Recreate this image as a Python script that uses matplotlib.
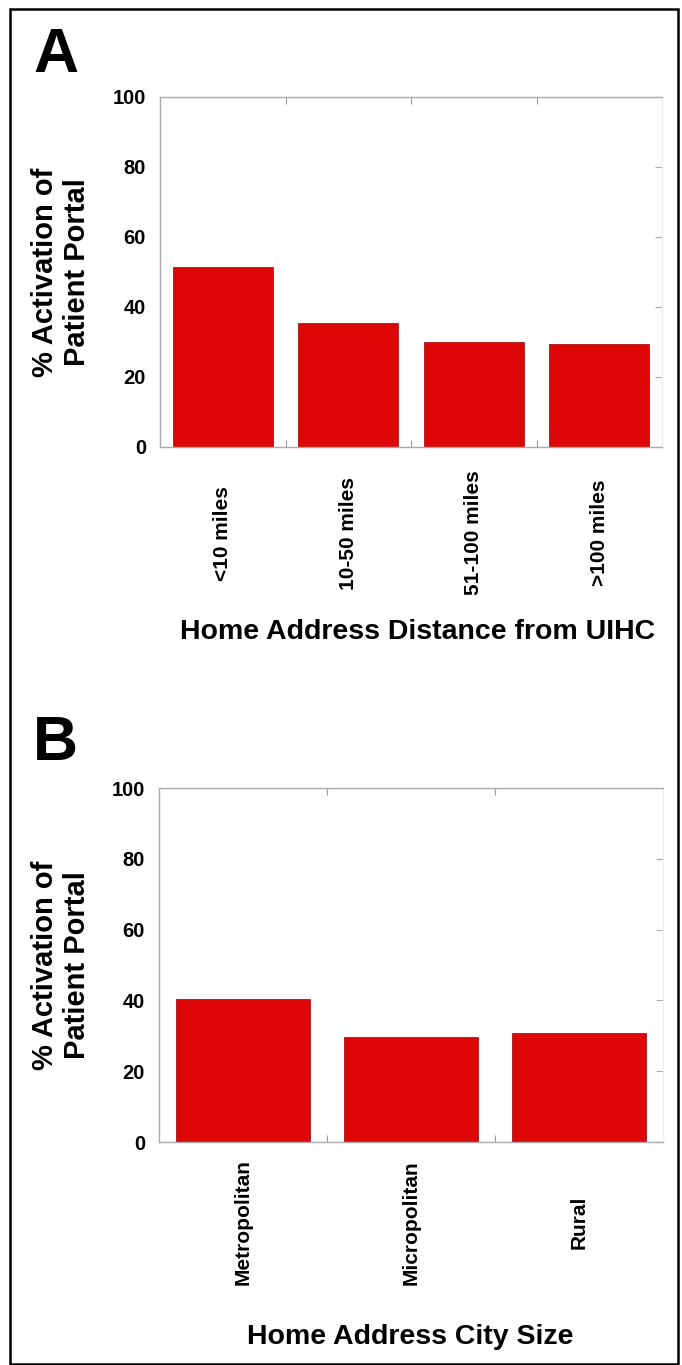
import matplotlib
matplotlib.use("Agg")
import matplotlib.pyplot as plt
from matplotlib.patches import Rectangle
import numpy as np

plt.rcParams['font.family'] = ['Liberation Sans', 'DejaVu Sans']
plt.rcParams['font.weight'] = 'bold'

# panel A data
dist_labels = ['<10 miles', '10-50 miles', '51-100 miles', '>100 miles']
dist_values = [51.4, 35.5, 30.1, 29.4]

# panel B data
city_labels = ['Metropolitan', 'Micropolitan', 'Rural']
city_values = [40.5, 29.6, 30.9]

yticks = [0, 20, 40, 60, 80, 100]
bar_color = '#dd0606'
W, H = 682, 1365

fig = plt.figure(figsize=(W / 100, H / 100), dpi=100)


def px_axes(left, top, right, bottom):
    return fig.add_axes([left / W, 1 - bottom / H, (right - left) / W, (bottom - top) / H])


def draw_panel(ax, labels, values, label_pad):
    n = len(labels)
    x = np.arange(n)
    ax.bar(x, values, width=0.8, color=bar_color, edgecolor='#a00000', linewidth=0.5, zorder=2)
    ax.set_xlim(-0.5, n - 0.5)
    ax.set_ylim(0, 100)
    ax.set_yticks(yticks)
    ax.set_yticklabels([str(t) for t in yticks], fontsize=14.5, fontweight='bold')
    ax.set_xticks(x)
    ax.set_xticklabels(labels, rotation=90, fontsize=15, fontweight='bold', va='center', ha='center')
    ax.set_xticks(np.arange(n - 1) + 0.5, minor=True)
    ax.tick_params(axis='x', which='major', length=0, pad=label_pad)
    ax.tick_params(axis='x', which='minor', direction='in', length=5, top=True, bottom=True,
                   color='#999999', width=0.8)
    ax.tick_params(axis='y', direction='in', length=5, left=False, right=True,
                   color='#aaaaaa', width=0.8, pad=10)
    for s in ax.spines.values():
        s.set_color('#aaaaaa')
        s.set_linewidth(1.0)
    ax.spines['right'].set_color('#eeeeee')


axA = px_axes(160, 97, 662, 447)
draw_panel(axA, dist_labels, dist_values, 62)
axB = px_axes(159, 788, 663, 1142)
draw_panel(axB, city_labels, city_values, 58)

ylab = '% Activation of\nPatient Portal'
fig.text(61 / W, 1 - 272 / H, ylab, rotation=90, ha='center', va='center',
         fontsize=21, fontweight='bold', linespacing=1.2)
fig.text(61 / W, 1 - 965 / H, ylab, rotation=90, ha='center', va='center',
         fontsize=21, fontweight='bold', linespacing=1.2)

fig.text(418 / W, 1 - 632 / H, 'Home Address Distance from UIHC', ha='center', va='center',
         fontsize=20.5, fontweight='bold')
fig.text(410 / W, 1 - 1337 / H, 'Home Address City Size', ha='center', va='center',
         fontsize=20.5, fontweight='bold')

fig.text(33 / W, 1 - 72 / H, 'A', ha='left', va='baseline', fontsize=45, fontweight='bold')
fig.text(33 / W, 1 - 760 / H, 'B', ha='left', va='baseline', fontsize=45, fontweight='bold')

# outer frame
fig.patches.append(Rectangle((10 / W, 1 / H), 668 / W, 1 - 9 / H - 1 / H, transform=fig.transFigure,
                             fill=False, edgecolor='black', linewidth=1.8))

fig.savefig('out.png', dpi=100)
